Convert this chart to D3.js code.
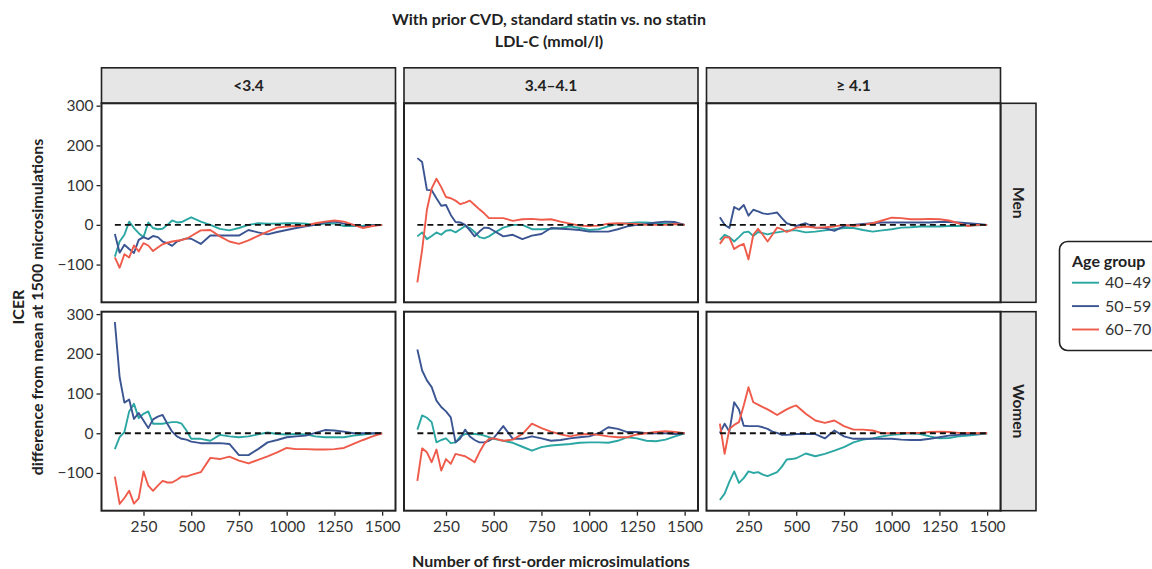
<!DOCTYPE html>
<html><head><meta charset="utf-8">
<script src="https://cdn.jsdelivr.net/npm/d3@7"></script>
<style>body{margin:0;background:#fff;} text{font-family:Lato,"Open Sans",sans-serif;}</style>
</head><body><svg id="c" width="1152" height="569"></svg>
<script>
// ---------- data ----------
const xs = [100,125,150,175,200,225,250,275,300,325,350,375,400,425,450,475,500,550,600,650,700,750,800,850,900,950,1000,1050,1100,1150,1200,1250,1300,1350,1400,1450,1500];
const ldlGroups = ["<3.4", "3.4\u20134.1", "\u2265 4.1"];
const sexes = ["Men", "Women"];
const ageGroups = ["40\u201349", "50\u201359", "60\u201370"];
const xTicks = [250,500,750,1000,1250,1500];
const yTicks = [-100,0,100,200,300];

// Men
const men_lt34_40 = [-80,-42,-25,8,-8,-21,-31,6,-8,-11,-10,0,11,6,7,13,19,8,0,-10,-14,-8,0,4,3,3,4,4,3,0,3,3,-3,-3,-2,0,0];
const men_lt34_50 = [-23,-70,-50,-61,-71,-38,-31,-36,-28,-31,-42,-46,-53,-42,-38,-34,-35,-48,-27,-27,-27,-27,-13,-19,-24,-18,-13,-8,-4,0,6,8,3,0,-6,-1,0];
const men_lt34_60 = [-82,-108,-74,-82,-52,-67,-46,-52,-66,-57,-49,-45,-42,-40,-38,-35,-28,-14,-13,-29,-42,-48,-39,-28,-17,-7,-4,-3,-2,4,8,11,8,0,-8,-3,0];
const men_mid_40 = [-29,-19,-36,-28,-19,-25,-15,-13,-19,-11,-3,-8,-18,-31,-34,-29,-21,-7,0,0,-11,-11,-10,-8,-4,-8,-13,-11,-4,2,4,6,6,4,3,4,0];
const men_mid_50 = [168,158,88,87,67,48,50,25,7,6,0,-14,-29,-17,-7,-8,-15,-29,-25,-36,-27,-23,-8,-10,-11,-13,-17,-17,-17,-11,-4,0,2,6,8,7,0];
const men_mid_60 = [-145,-63,38,92,116,95,70,67,61,52,56,61,50,39,29,17,17,17,10,14,15,13,14,8,3,-2,-3,-2,3,4,3,2,0,0,0,2,0];
const men_ge41_40 = [-38,-25,-31,-42,-31,-19,-17,-28,-18,-21,-24,-21,-19,-17,-15,-14,-14,-19,-17,-14,-11,-8,-8,-13,-17,-14,-11,-7,-6,-4,-4,-4,-3,-3,-2,-1,0];
const men_ge41_50 = [19,0,-8,45,38,50,23,38,34,29,27,29,31,17,4,0,-3,4,-7,-8,-15,-3,0,2,4,6,6,6,6,6,6,7,7,6,4,2,0];
const men_ge41_60 = [-48,-31,-32,-61,-53,-48,-87,-25,-10,-25,-42,-25,-7,-11,-18,-13,-7,-4,-7,-6,-4,0,-3,0,4,11,18,17,14,14,15,14,11,4,-3,0,0];
// Women
const women_lt34_40 = [-40,-10,3,55,74,38,49,55,24,24,24,26,28,28,24,7,-14,-14,-19,-4,-8,-10,-8,-3,2,-2,-3,-2,-3,-8,-10,-10,-10,-6,-3,-1,0];
const women_lt34_50 = [280,141,77,85,36,51,32,13,35,42,46,24,4,-8,-14,-16,-21,-25,-25,-25,-27,-55,-55,-40,-23,-17,-10,-8,-6,1,8,7,4,0,0,0,0];
const women_lt34_60 = [-109,-178,-163,-145,-177,-164,-96,-132,-145,-132,-120,-124,-124,-117,-109,-109,-105,-98,-62,-65,-59,-69,-76,-67,-58,-48,-37,-40,-40,-41,-41,-40,-37,-27,-17,-8,0];
const women_mid_40 = [9,45,39,28,-23,-17,-13,-25,-23,-8,-2,-2,-2,-3,-6,-10,-14,-19,-24,-34,-44,-35,-31,-29,-27,-24,-23,-23,-24,-19,-10,-13,-19,-20,-16,-8,0];
const women_mid_50 = [211,158,133,116,82,66,55,40,-23,-13,9,-8,-17,-23,-23,-19,-12,18,-14,-14,-8,-13,-19,-17,-13,-10,-8,0,15,11,3,3,0,0,0,-2,0];
const women_mid_60 = [-120,-38,-48,-73,-41,-94,-65,-77,-52,-55,-58,-65,-73,-48,-27,-14,-13,-19,-16,-2,24,13,4,-3,-8,-3,-2,-4,-8,-10,-10,-3,0,3,5,3,0];
const women_ge41_40 = [-168,-152,-122,-96,-125,-113,-96,-100,-98,-104,-108,-103,-98,-84,-66,-65,-63,-51,-58,-52,-44,-35,-23,-16,-13,-8,-4,-2,0,-2,-8,-13,-12,-8,-6,-3,0];
const women_ge41_50 = [1,24,4,78,60,19,18,18,18,15,11,4,1,-4,-4,-3,-2,-2,-2,-13,7,-8,-14,-14,-14,-14,-14,-16,-17,-17,-14,-10,-6,-4,-2,-1,0];
const women_ge41_60 = [24,-52,11,21,28,70,116,78,72,66,60,53,46,53,60,66,70,49,32,26,32,18,9,9,7,0,0,1,1,1,3,4,3,1,1,0,0];

const panels = [
  [[men_lt34_40, men_lt34_50, men_lt34_60], [men_mid_40, men_mid_50, men_mid_60], [men_ge41_40, men_ge41_50, men_ge41_60]],
  [[women_lt34_40, women_lt34_50, women_lt34_60], [women_mid_40, women_mid_50, women_mid_60], [women_ge41_40, women_ge41_50, women_ge41_60]]
];
const colors = ["#2ba7a3", "#3b5592", "#ef5b4b"];

// ---------- layout ----------
const svg = d3.select("#c");
const colX = [101.5, 404, 706.5], pw = 294;
const rowY = [103.3, 311.7], ph = 199;
const stripH = 35.5, stripW = 35.5;
const ink = "#222";
const fsTitle = 16, fsTick = 15.5, fsStrip = 15.5, fsLegend = 16;

const xScale = c => d3.scaleLinear().domain([30, 1570]).range([colX[c], colX[c] + pw]);
const yScale = r => d3.scaleLinear().domain([-195, 306]).range([rowY[r] + ph, rowY[r]]);

// title
svg.append("text").attr("x", 549).attr("y", 19).attr("dy", "0.35em").attr("text-anchor", "middle")
  .attr("font-size", fsTitle).attr("font-weight", "bold").attr("fill", "#222")
  .text("With prior CVD, standard statin vs. no statin");
svg.append("text").attr("x", 549).attr("y", 41).attr("dy", "0.35em").attr("text-anchor", "middle")
  .attr("font-size", fsTitle).attr("font-weight", "bold").attr("fill", "#222")
  .text("LDL-C (mmol/l)");

// column strips
ldlGroups.forEach((g, c) => {
  svg.append("rect").attr("x", colX[c]).attr("y", rowY[0] - stripH).attr("width", pw).attr("height", stripH)
    .attr("fill", "#e6e6e6").attr("stroke", ink).attr("stroke-width", 1.6);
  svg.append("text").attr("x", colX[c] + pw / 2).attr("y", rowY[0] - stripH / 2).attr("dy", "0.35em")
    .attr("text-anchor", "middle").attr("font-size", fsStrip).attr("font-weight", "bold").attr("fill", "#222").text(g);
});
// row strips
sexes.forEach((s, r) => {
  const x0 = colX[2] + pw;
  svg.append("rect").attr("x", x0).attr("y", rowY[r]).attr("width", stripW).attr("height", ph)
    .attr("fill", "#e6e6e6").attr("stroke", ink).attr("stroke-width", 1.6);
  svg.append("text").attr("transform", `translate(${x0 + stripW / 2},${rowY[r] + ph / 2}) rotate(90)`)
    .attr("dy", "0.35em").attr("text-anchor", "middle").attr("font-size", fsStrip).attr("font-weight", "bold")
    .attr("fill", "#222").text(s);
});

const line = (x, y) => d3.line().x((d, i) => x(xs[i])).y(d => y(d));

for (let r = 0; r < 2; r++) {
  for (let c = 0; c < 3; c++) {
    const x = xScale(c), y = yScale(r);
    const g = svg.append("g");
    g.append("rect").attr("x", colX[c]).attr("y", rowY[r]).attr("width", pw).attr("height", ph).attr("fill", "#fff");
    panels[r][c].forEach((vals, k) => {
      g.append("path").datum(vals).attr("d", line(x, y)).attr("fill", "none")
        .attr("stroke", colors[k]).attr("stroke-width", 1.9).attr("stroke-linejoin", "round");
    });
    g.append("line").attr("x1", x(100)).attr("x2", x(1500)).attr("y1", y(0)).attr("y2", y(0))
      .attr("stroke", "#111").attr("stroke-width", 1.9).attr("stroke-dasharray", "6,4");
    g.append("rect").attr("x", colX[c]).attr("y", rowY[r]).attr("width", pw).attr("height", ph)
      .attr("fill", "none").attr("stroke", ink).attr("stroke-width", 2);
    if (c === 0) {
      const ax = svg.append("g").attr("transform", `translate(${colX[0] - 1},0)`)
        .call(d3.axisLeft(y).tickValues(yTicks).tickSize(4).tickPadding(3).tickFormat(d3.format("d")));
      ax.select(".domain").remove();
      ax.selectAll("line").attr("stroke", ink).attr("stroke-width", 1.3);
      ax.selectAll("text").attr("font-size", fsTick).attr("fill", "#333").attr("font-family", "Lato");
    }
    if (r === 1) {
      const ax = svg.append("g").attr("transform", `translate(0,${rowY[1] + ph + 1})`)
        .call(d3.axisBottom(x).tickValues(xTicks).tickSize(4).tickPadding(5).tickFormat(d3.format("d")));
      ax.select(".domain").remove();
      ax.selectAll("line").attr("stroke", ink).attr("stroke-width", 1.3);
      ax.selectAll("text").attr("font-size", fsTick).attr("fill", "#333").attr("font-family", "Lato");
    }
  }
}

// axis titles
svg.append("text").attr("x", 551).attr("y", 561).attr("dy", "0.35em").attr("text-anchor", "middle")
  .attr("font-size", fsTitle).attr("font-weight", "bold").attr("fill", "#222")
  .text("Number of first-order microsimulations");
const yMid = (rowY[0] + rowY[1] + ph) / 2;
svg.append("text").attr("transform", `translate(18,${yMid}) rotate(-90)`).attr("dy", "0.35em").attr("text-anchor", "middle")
  .attr("font-size", fsTitle).attr("font-weight", "bold").attr("fill", "#222").text("ICER");
svg.append("text").attr("transform", `translate(37,${yMid}) rotate(-90)`).attr("dy", "0.35em").attr("text-anchor", "middle")
  .attr("font-size", fsTitle).attr("font-weight", "bold").attr("fill", "#222")
  .text("difference from mean at 1500 microsimulations");

// legend
const lg = svg.append("g");
lg.append("rect").attr("x", 1059.5).attr("y", 241.5).attr("width", 110).attr("height", 109).attr("rx", 8)
  .attr("fill", "#fff").attr("stroke", ink).attr("stroke-width", 1.6);
lg.append("text").attr("x", 1072).attr("y", 261).attr("dy", "0.35em").attr("font-size", fsLegend).attr("font-weight", "bold").attr("fill", "#222").text("Age group");
ageGroups.forEach((a, i) => {
  const yy = 282.7 + i * 23.4;
  lg.append("line").attr("x1", 1072).attr("x2", 1099).attr("y1", yy).attr("y2", yy)
    .attr("stroke", colors[i]).attr("stroke-width", 1.9);
  lg.append("text").attr("x", 1105).attr("y", yy).attr("dy", "0.35em").attr("font-size", fsLegend).attr("fill", "#333").text(a);
});
</script></body></html>
